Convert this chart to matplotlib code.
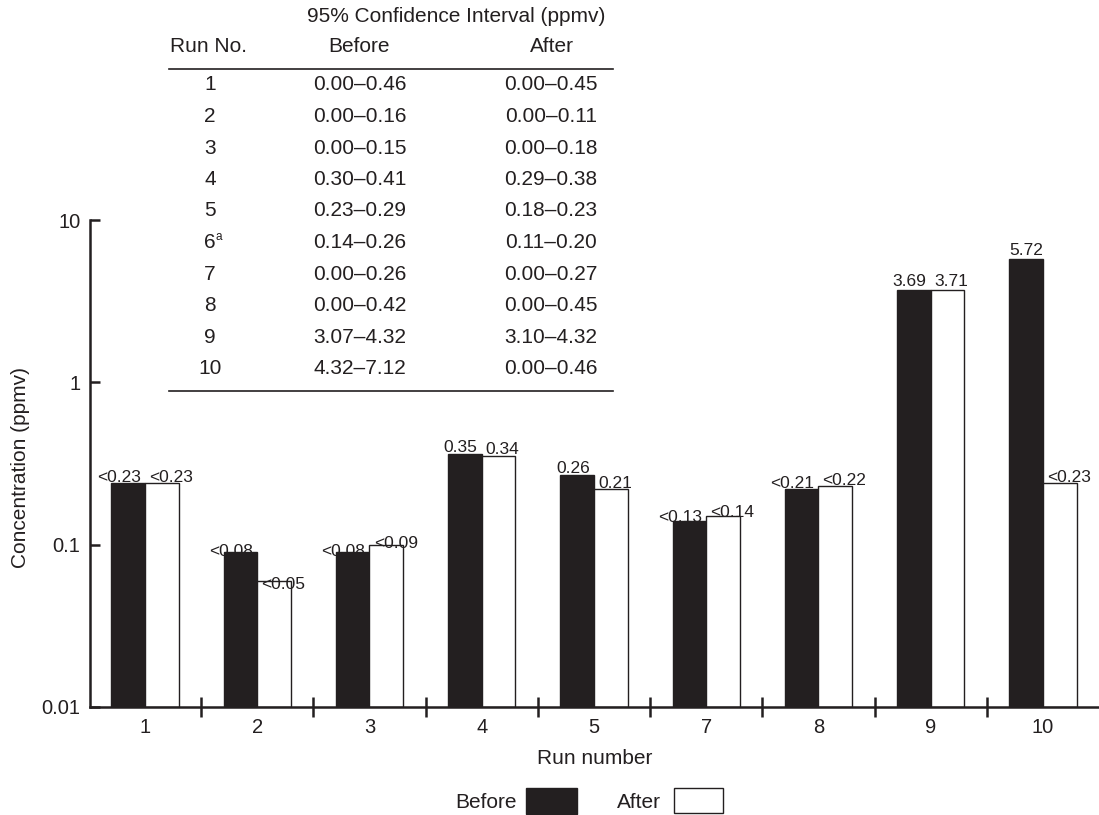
import matplotlib
matplotlib.use("Agg")
import matplotlib.pyplot as plt
import numpy as np
from matplotlib.ticker import FixedLocator, NullFormatter

plt.rcParams["font.family"] = ["Liberation Sans", "DejaVu Sans"]

INK = "#231f20"

# Bar data
runs = ["1", "2", "3", "4", "5", "7", "8", "9", "10"]
before = [0.23, 0.08, 0.08, 0.35, 0.26, 0.13, 0.21, 3.69, 5.72]
after = [0.23, 0.05, 0.09, 0.34, 0.21, 0.14, 0.22, 3.71, 0.23]
before_lt = [True, True, True, False, False, True, True, False, False]
after_lt = [True, True, True, False, False, True, True, False, True]

# Confidence interval table
table_runs = ["1", "2", "3", "4", "5", "6", "7", "8", "9", "10"]
ci_before = ["0.00–0.46", "0.00–0.16", "0.00–0.15", "0.30–0.41", "0.23–0.29",
             "0.14–0.26", "0.00–0.26", "0.00–0.42", "3.07–4.32", "4.32–7.12"]
ci_after = ["0.00–0.45", "0.00–0.11", "0.00–0.18", "0.29–0.38", "0.18–0.23",
            "0.11–0.20", "0.00–0.27", "0.00–0.45", "3.10–4.32", "0.00–0.46"]

W, H = 1099, 815
fig = plt.figure(figsize=(W / 100, H / 100), dpi=100)


def fx(px):
    return px / W


def fy(py):
    return 1 - py / H


FS = 15        # table, axis titles, legend
FS_TICK = 14.5
FS_BAR = 12.5

ax = fig.add_axes([fx(90), fy(707), fx(1099) - fx(90), fy(220) - fy(707)])
ax.set_yscale("log")
ax.set_ylim(0.01, 10)
ax.set_xlim(-0.49, 8.5)

x = np.arange(len(runs))
bw = 0.30
ax.bar(x - bw / 2, before, width=bw, bottom=0.01, color=INK, edgecolor=INK,
       linewidth=1.0, zorder=2)
ax.bar(x + bw / 2, after, width=bw, bottom=0.01, color="white", edgecolor=INK,
       linewidth=1.0, zorder=2)


def fmt(v, lt):
    return ("<" if lt else "") + f"{v:.2f}"


for i in range(len(runs)):
    # labels of neighbouring bars at similar height are pushed apart
    if before[i] > 3 * after[i]:
        ax.annotate(fmt(before[i], before_lt[i]), (x[i] - bw / 2, before[i]),
                    xytext=(0, 3), textcoords="offset points", ha="center",
                    va="baseline", fontsize=FS_BAR, color=INK)
    else:
        ax.annotate(fmt(before[i], before_lt[i]), (x[i], before[i]),
                    xytext=(-3, 3), textcoords="offset points", ha="right",
                    va="baseline", fontsize=FS_BAR, color=INK)
    ax.annotate(fmt(after[i], after_lt[i]), (x[i], after[i]),
                xytext=(3, 3), textcoords="offset points", ha="left",
                va="baseline", fontsize=FS_BAR, color=INK)

# Axes styling
for s in ("top", "right"):
    ax.spines[s].set_visible(False)
for s in ("left", "bottom"):
    ax.spines[s].set_linewidth(1.8)
    ax.spines[s].set_color(INK)

ax.yaxis.set_major_locator(FixedLocator([0.01, 0.1, 1, 10]))
ax.yaxis.set_minor_locator(FixedLocator([]))
ax.set_yticklabels(["0.01", "0.1", "1", "10"])
ax.tick_params(axis="y", which="major", direction="in", length=7.5, width=1.8,
               color=INK, labelsize=FS_TICK, labelcolor=INK, pad=7)

ax.set_xticks(x)
ax.set_xticklabels(runs)
ax.tick_params(axis="x", which="major", length=0, labelsize=FS_TICK,
               labelcolor=INK, pad=8)
ax.xaxis.set_minor_locator(FixedLocator(np.arange(0.5, len(runs) - 1, 1.0)))
ax.xaxis.set_minor_formatter(NullFormatter())
ax.tick_params(axis="x", which="minor", direction="inout", length=14,
               width=1.8, color=INK)

fig.text(fx(595), fy(758), "Run number", ha="center", va="center",
         fontsize=FS, color=INK)
fig.text(fx(21), fy(468), "Concentration (ppmv)", rotation=90, ha="center",
         va="center", fontsize=FS, color=INK)

# Confidence interval table in the upper-left area
fig.text(fx(456), fy(16), "95% Confidence Interval (ppmv)", ha="center",
         va="center", fontsize=FS, color=INK)
fig.text(fx(209), fy(47), "Run No.", ha="center", va="center",
         fontsize=FS, color=INK)
fig.text(fx(359), fy(46), "Before", ha="center", va="center",
         fontsize=FS, color=INK)
fig.text(fx(552), fy(46), "After", ha="center", va="center",
         fontsize=FS, color=INK)
for yy in (69, 391):
    fig.add_artist(plt.Line2D([fx(169), fx(613)], [fy(yy), fy(yy)],
                              color=INK, linewidth=1.2))

row0, step = 85, 31.5
for k, (r, b, a) in enumerate(zip(table_runs, ci_before, ci_after)):
    yy = fy(row0 + k * step)
    fig.text(fx(210), yy, r, ha="center", va="center", fontsize=FS,
             color=INK)
    if r == "6":
        fig.text(fx(215), fy(row0 + k * step - 5), "a", ha="left",
                 va="center", fontsize=8.5, color=INK)
    fig.text(fx(360), yy, b, ha="center", va="center", fontsize=FS,
             color=INK)
    fig.text(fx(551), yy, a, ha="center", va="center", fontsize=FS,
             color=INK)

# Legend below the axis
fig.text(fx(517), fy(802), "Before", ha="right", va="center", fontsize=FS,
         color=INK)
fig.add_artist(plt.Rectangle((fx(526), fy(814)), fx(51), fy(788) - fy(814),
                             facecolor=INK, edgecolor=INK, linewidth=1.0))
fig.text(fx(661), fy(802), "After", ha="right", va="center", fontsize=FS,
         color=INK)
fig.add_artist(plt.Rectangle((fx(674), fy(813)), fx(49), fy(788) - fy(813),
                             facecolor="white", edgecolor=INK, linewidth=1.0))

fig.savefig("out.png", dpi=100)
